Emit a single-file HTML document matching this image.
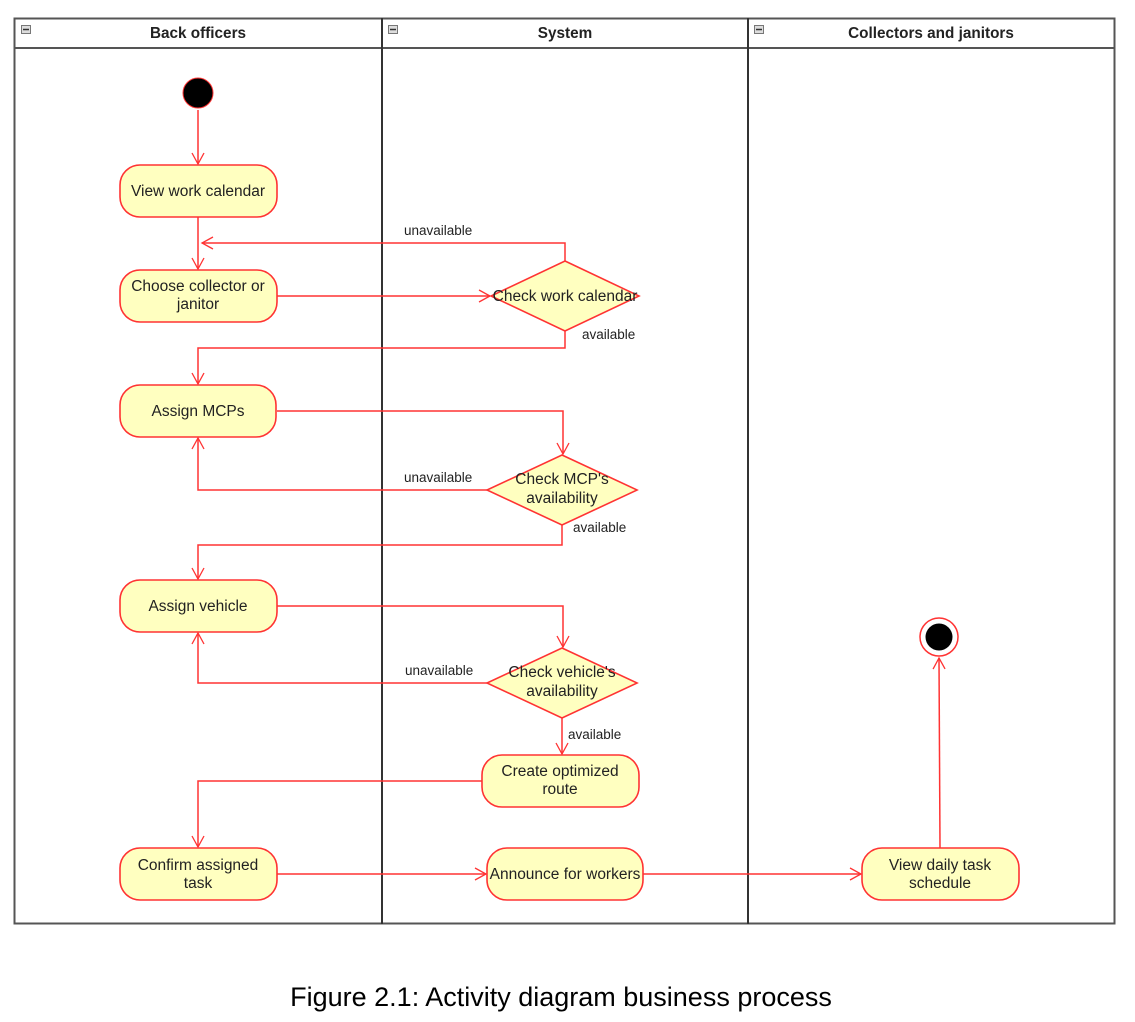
<!DOCTYPE html>
<html><head><meta charset="utf-8"><style>
html,body{margin:0;padding:0;background:#fff;}
svg{display:block;}
text{font-family:"Liberation Sans",Arial,sans-serif;}
</style></head><body>
<svg width="1135" height="1022" viewBox="0 0 1135 1022" xmlns="http://www.w3.org/2000/svg">
<defs>
<marker id="a" markerWidth="14" markerHeight="14" refX="12" refY="7" orient="auto" markerUnits="userSpaceOnUse">
<polyline points="1,1 12,7 1,13" fill="none" stroke="#ff3333" stroke-width="1.3"/>
</marker>
</defs>
<rect x="14.5" y="18.5" width="1100" height="905" fill="#fff" stroke="#555" stroke-width="2"/>
<line x1="14" y1="48" x2="1115" y2="48" stroke="#555" stroke-width="2"/>
<line x1="382" y1="18" x2="382" y2="924" stroke="#333" stroke-width="2"/>
<line x1="748" y1="18" x2="748" y2="924" stroke="#333" stroke-width="2"/>
<g fill="#ddd" stroke="#777" stroke-width="1">
<rect x="21.5" y="25.5" width="9" height="8"/><rect x="388.5" y="25.5" width="9" height="8"/><rect x="754.5" y="25.5" width="9" height="8"/>
</g>
<g stroke="#333" stroke-width="1.5"><line x1="23" y1="29.5" x2="29" y2="29.5"/><line x1="390" y1="29.5" x2="396" y2="29.5"/><line x1="756" y1="29.5" x2="762" y2="29.5"/></g>
<g font-size="15.3" font-weight="bold" fill="#222" text-anchor="middle">
<text x="198" y="38">Back officers</text>
<text x="565" y="38">System</text>
<text x="931" y="38">Collectors and janitors</text>
</g>
<g fill="none" stroke="#ff3333" stroke-width="1.5">
<line x1="198" y1="110" x2="198" y2="164" marker-end="url(#a)"/>
<line x1="198" y1="217" x2="198" y2="269" marker-end="url(#a)"/>
<polyline points="565,261 565,243 202,243" marker-end="url(#a)"/>
<line x1="277" y1="296" x2="490" y2="296" marker-end="url(#a)"/>
<polyline points="565,331 565,348 198,348 198,384" marker-end="url(#a)"/>
<polyline points="277,411 563,411 563,454" marker-end="url(#a)"/>
<polyline points="487,490 198,490 198,438" marker-end="url(#a)"/>
<polyline points="562,525 562,545 198,545 198,579" marker-end="url(#a)"/>
<polyline points="277,606 563,606 563,647" marker-end="url(#a)"/>
<polyline points="487,683 198,683 198,633" marker-end="url(#a)"/>
<line x1="562" y1="718" x2="562" y2="754" marker-end="url(#a)"/>
<polyline points="482,781 198,781 198,847" marker-end="url(#a)"/>
<line x1="277" y1="874" x2="486" y2="874" marker-end="url(#a)"/>
<line x1="643" y1="874" x2="861" y2="874" marker-end="url(#a)"/>
<line x1="940" y1="848" x2="939" y2="658" marker-end="url(#a)"/>
</g>
<circle cx="198" cy="93" r="15" fill="#000" stroke="#ff3333" stroke-width="1"/>
<circle cx="939" cy="637" r="19" fill="#fff" stroke="#ff3333" stroke-width="1.5"/>
<circle cx="939" cy="637" r="13.5" fill="#000"/>
<g fill="#ffffc0" stroke="#ff3333" stroke-width="1.6">
<rect x="120" y="165" width="157" height="52" rx="20"/>
<rect x="120" y="270" width="157" height="52" rx="20"/>
<rect x="120" y="385" width="156" height="52" rx="20"/>
<rect x="120" y="580" width="157" height="52" rx="20"/>
<rect x="120" y="848" width="157" height="52" rx="20"/>
<rect x="482" y="755" width="157" height="52" rx="20"/>
<rect x="487" y="848" width="156" height="52" rx="20"/>
<rect x="862" y="848" width="157" height="52" rx="20"/>
<polygon points="565,261 639,296 565,331 491,296"/>
<polygon points="562,455 637,490 562,525 487,490"/>
<polygon points="562,648 637,683 562,718 487,683"/>
</g>
<g font-size="15.5" fill="#222" text-anchor="middle">
<text x="198" y="196">View work calendar</text>
<text x="198" y="291">Choose collector or</text><text x="198" y="309">janitor</text>
<text x="198" y="416">Assign MCPs</text>
<text x="198" y="611">Assign vehicle</text>
<text x="198" y="870">Confirm assigned</text><text x="198" y="888">task</text>
<text x="560" y="776">Create optimized</text><text x="560" y="794">route</text>
<text x="565" y="879">Announce for workers</text>
<text x="940" y="870">View daily task</text><text x="940" y="888">schedule</text>
<text x="565" y="301">Check work calendar</text>
<text x="562" y="484">Check MCP's</text><text x="562" y="503">availability</text>
<text x="562" y="677">Check vehicle's</text><text x="562" y="696">availability</text>
</g>
<g font-size="13.5" fill="#222">
<text x="404" y="235">unavailable</text>
<text x="582" y="339">available</text>
<text x="404" y="482">unavailable</text>
<text x="573" y="532">available</text>
<text x="405" y="675">unavailable</text>
<text x="568" y="739">available</text>
</g>
<text x="561" y="1006" font-size="27" fill="#000" text-anchor="middle">Figure 2.1: Activity diagram business process</text>
</svg>
</body></html>
